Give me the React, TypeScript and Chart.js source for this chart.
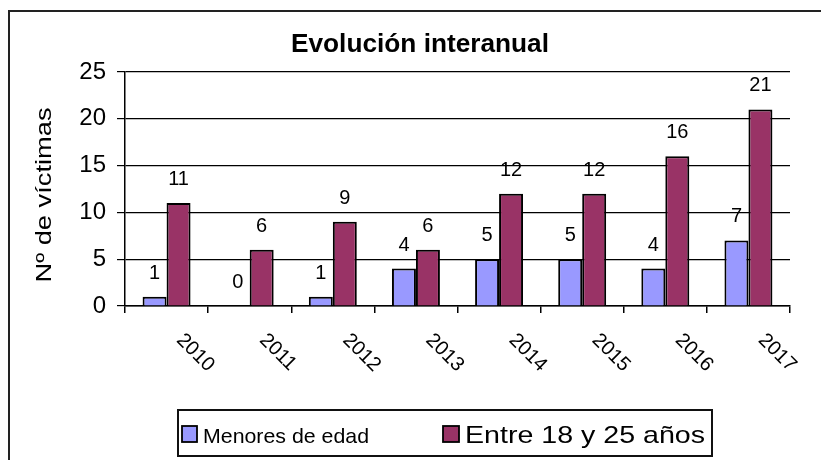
import React, { useEffect, useRef } from "react";
import { Chart, registerables } from "chart.js";

Chart.register(...registerables);

const categories = ["2010", "2011", "2012", "2013", "2014", "2015", "2016", "2017"];
const menoresDeEdad = [1, 0, 1, 4, 5, 5, 4, 7];
const entre18y25 = [11, 6, 9, 6, 12, 12, 16, 21];
const seriesNames = ["Menores de edad", "Entre 18 y 25 años"];
const seriesColors = ["#9999FF", "#993366"];
const yMin = 0;
const yMax = 25;
const yStep = 5;
const titleText = "Evolución interanual";
const yTitleText = "Nº de víctimas";

const FONT = "'Liberation Sans', Arial, sans-serif";

function drawScaledText(
  ctx: CanvasRenderingContext2D,
  text: string,
  x: number,
  y: number,
  font: string,
  targetWidth: number,
  align: "left" | "center"
) {
  ctx.save();
  ctx.font = font;
  const w = ctx.measureText(text).width;
  const sx = targetWidth / w;
  ctx.translate(x, y);
  ctx.scale(sx, 1);
  ctx.textAlign = align;
  ctx.fillText(text, 0, 0);
  ctx.restore();
}

const decorPlugin = {
  id: "decor",
  afterDraw(chart: any) {
    const ctx: CanvasRenderingContext2D = chart.ctx;
    ctx.save();
    ctx.fillStyle = "#000";
    ctx.strokeStyle = "#000";

    // outer frame
    ctx.lineWidth = 2;
    ctx.strokeStyle = "#222";
    ctx.strokeRect(9, 11, 830, 470);

    // title
    ctx.fillStyle = "#000";
    ctx.textBaseline = "alphabetic";
    drawScaledText(ctx, titleText, 420, 52, `bold 25px ${FONT}`, 258, "center");

    // y axis title
    ctx.save();
    ctx.translate(51, 195);
    ctx.rotate(-Math.PI / 2);
    drawScaledText(ctx, yTitleText, 0, 0, `22px ${FONT}`, 175, "center");
    ctx.restore();

    // x labels rotated
    const xs = chart.scales.x;
    ctx.font = `20px ${FONT}`;
    categories.forEach((c, i) => {
      const cx = xs.getPixelForValue(i);
      ctx.save();
      ctx.translate(cx + 13, 337);
      ctx.rotate(Math.PI / 4);
      ctx.textAlign = "left";
      ctx.textBaseline = "middle";
      ctx.fillText(c, 0, 0);
      ctx.restore();
    });

    // data labels
    ctx.font = `20px ${FONT}`;
    ctx.textAlign = "center";
    ctx.textBaseline = "alphabetic";
    chart.data.datasets.forEach((ds: any, di: number) => {
      const meta = chart.getDatasetMeta(di);
      meta.data.forEach((bar: any, i: number) => {
        ctx.fillText(String(ds.data[i]), bar.x, bar.y - 18);
      });
    });

    // legend
    ctx.lineWidth = 2;
    ctx.strokeStyle = "#111";
    ctx.strokeRect(178, 410, 534, 46);
    ctx.lineWidth = 1.8;
    ctx.strokeStyle = "#000";
    ctx.fillStyle = seriesColors[0];
    ctx.fillRect(182, 426, 15, 16);
    ctx.strokeRect(182, 426, 15, 16);
    ctx.fillStyle = seriesColors[1];
    ctx.fillRect(443, 426, 16, 16);
    ctx.strokeRect(443, 426, 16, 16);
    ctx.fillStyle = "#000";
    ctx.textBaseline = "alphabetic";
    drawScaledText(ctx, seriesNames[0], 203, 443, `21px ${FONT}`, 166, "left");
    drawScaledText(ctx, seriesNames[1], 465, 443, `24px ${FONT}`, 240, "left");

    ctx.restore();
  },
};

export default function App() {
  const ref = useRef<HTMLCanvasElement | null>(null);

  useEffect(() => {
    if (!ref.current) return;
    const chart = new Chart(ref.current, {
      type: "bar",
      data: {
        labels: categories,
        datasets: [
          {
            label: seriesNames[0],
            data: menoresDeEdad,
            backgroundColor: seriesColors[0],
            borderColor: "#000",
            borderWidth: 2,
            borderSkipped: "start",
            categoryPercentage: 0.577,
            barPercentage: 1,
          },
          {
            label: seriesNames[1],
            data: entre18y25,
            backgroundColor: seriesColors[1],
            borderColor: "#000",
            borderWidth: 2,
            borderSkipped: "start",
            categoryPercentage: 0.577,
            barPercentage: 1,
          },
        ],
      },
      options: {
        responsive: false,
        animation: false,
        devicePixelRatio: 1,
        layout: { padding: { top: 72, right: 31, bottom: 0, left: 8 } },
        plugins: {
          legend: { display: false },
          title: { display: false },
          tooltip: { enabled: false },
        },
        scales: {
          x: {
            grid: {
              display: true,
              drawOnChartArea: false,
              drawTicks: true,
              tickLength: 7,
              color: "#000",
              lineWidth: 1.5,
              offset: true,
            },
            border: { display: true, color: "#000", width: 1.5 },
            ticks: { display: false },
            afterFit: (s: any) => {
              s.height = 154;
            },
          },
          y: {
            min: yMin,
            max: yMax,
            ticks: {
              stepSize: yStep,
              color: "#000",
              font: { family: FONT, size: 24 },
              padding: 11,
            },
            grid: { color: "#000", lineWidth: 1.2, tickLength: 8 },
            border: { display: true, color: "#000", width: 1.5 },
            afterFit: (s: any) => {
              s.width = 117;
            },
          },
        },
      },
      plugins: [decorPlugin],
    });
    return () => chart.destroy();
  }, []);

  return (
    <div style={{ position: "fixed", left: 0, top: 0, width: 821, height: 460, background: "#fff" }}>
      <canvas ref={ref} width={821} height={460} style={{ display: "block", width: 821, height: 460 }} />
    </div>
  );
}
